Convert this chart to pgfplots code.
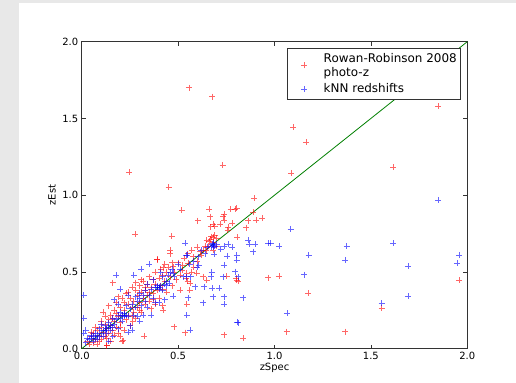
\documentclass[border=0pt]{standalone}
\usepackage{pgfplots}
\pgfplotsset{compat=1.18}
\usepackage{fontspec}
\setmainfont{DejaVu Sans}
\definecolor{mplgreen}{rgb}{0,0.5,0}
\definecolor{bggrey}{RGB}{232,232,232}
\begin{document}
\begin{tikzpicture}
\fill[white] (0,0) rectangle (516bp,383bp);
\fill[bggrey] (0,0) rectangle (19bp,383bp);
\fill[bggrey] (0,380bp) rectangle (516bp,383bp);
\begin{axis}[
  at={(81.7bp,34.3bp)}, anchor=south west,
  scale only axis, width=385.6bp, height=307bp,
  xmin=0, xmax=2, ymin=0, ymax=2,
  xtick={0,0.5,1,1.5,2}, ytick={0,0.5,1,1.5,2},
  minor tick num=0,
  major tick length=4bp,
  tick style={black!80, line width=0.6bp},
  axis line style={black!80, line width=0.9bp},
  /pgf/number format/.cd, fixed, fixed zerofill, precision=1, assume math mode=true,
  /pgfplots/.cd,
  ticklabel style={font=\fontsize{10}{12}\selectfont},
  xlabel={zSpec}, ylabel={zEst},
  label style={font=\fontsize{10}{12}\selectfont},
  xlabel style={at={(axis description cs:0.5,-0.0619)}, anchor=center},
  ylabel style={at={(axis description cs:-0.0770,0.5)}, anchor=center},
  clip=true,
  legend style={at={(0.984,0.980)}, anchor=north east, draw=black!80, line width=0.8bp,
    font=\fontsize{12}{14}\selectfont, cells={align=left, anchor=west},
    inner xsep=2bp, inner ysep=3bp, row sep=2bp},
  legend cell align=left,
]
\addplot[only marks, mark=+, mark size=3bp, red, line width=0.6bp, mark options={opacity=0.6},
  legend image code/.code={\draw[red, line width=0.6bp, opacity=0.6] (-3bp,0) -- (3bp,0) (0,-3bp) -- (0,3bp); \path (-15bp,0) (17bp,0);}] coordinates {
(0.03,0.05)(0.04,0.03)(0.05,0.08)(0.06,0.04)(0.06,0.10)(0.07,0.06)(0.08,0.12)(0.08,0.03)(0.09,0.09)(0.10,0.14)
(0.10,0.06)(0.11,0.24)(0.11,0.11)(0.12,0.16)(0.12,0.08)(0.13,0.02)(0.13,0.13)(0.14,0.19)(0.14,0.10)(0.15,0.22)
(0.15,0.15)(0.15,0.05)(0.16,0.12)(0.16,0.43)(0.17,0.25)(0.17,0.18)(0.18,0.14)(0.18,0.30)(0.19,0.21)(0.19,0.10)
(0.20,0.27)(0.20,0.17)(0.21,0.33)(0.21,0.22)(0.22,0.12)(0.22,0.25)(0.23,0.36)(0.23,0.19)(0.24,0.29)(0.24,0.22)
(0.25,0.33)(0.25,0.15)(0.26,0.27)(0.26,0.40)(0.27,0.24)(0.27,0.31)(0.28,0.43)(0.28,0.20)(0.29,0.35)(0.29,0.27)
(0.30,0.41)(0.30,0.30)(0.31,0.37)(0.31,0.24)(0.32,0.44)(0.32,0.33)(0.33,0.38)(0.33,0.29)(0.34,0.42)(0.34,0.35)
(0.35,0.47)(0.35,0.31)(0.36,0.40)(0.36,0.26)(0.37,0.45)(0.37,0.36)(0.38,0.50)(0.38,0.42)(0.39,0.58)(0.39,0.38)
(0.40,0.46)(0.40,0.33)(0.41,0.52)(0.41,0.41)(0.42,0.48)(0.42,0.28)(0.43,0.55)(0.43,0.44)(0.44,0.50)(0.44,0.37)
(0.45,0.53)(0.46,0.47)(0.47,0.56)(0.48,0.50)
(0.05,0.11)(0.07,0.14)(0.09,0.05)(0.10,0.18)(0.12,0.21)(0.13,0.07)(0.14,0.28)(0.16,0.20)(0.18,0.23)(0.19,0.34)
(0.20,0.08)(0.22,0.30)(0.24,0.37)(0.26,0.21)(0.28,0.38)(0.30,0.25)(0.31,0.45)(0.33,0.40)(0.35,0.37)(0.37,0.32)
(0.38,0.29)(0.42,0.39)(0.20,0.14)(0.17,0.09)(0.21,0.05)
(0.556,1.70)(0.676,1.642)(1.098,1.442)(1.163,1.345)(0.731,1.195)(1.086,1.145)(0.247,1.151)(0.451,1.051)
(1.850,1.581)(1.616,1.182)(0.519,0.901)(0.894,0.98)(0.276,0.745)(1.959,0.447)(1.175,0.361)(0.966,0.463)
(1.023,0.472)(1.063,0.111)(1.367,0.111)(1.556,0.263)(0.838,0.068)(0.740,0.091)(0.536,0.104)(0.480,0.143)
(0.323,0.083)(0.467,0.734)(0.458,0.643)(0.602,0.834)(0.662,0.910)(0.666,0.86)(0.683,0.812)(0.669,0.795)
(0.648,0.708)(0.669,0.712)(0.683,0.725)(0.657,0.669)(0.645,0.638)(0.614,0.632)(0.579,0.599)(0.890,0.89)
(0.937,0.849)(0.904,0.838)(0.864,0.834)(0.852,0.788)(0.807,0.725)(0.795,0.908)(0.773,0.910)(0.804,0.914)
(0.735,0.860)(0.738,0.875)(0.738,0.838)(0.717,0.812)(0.757,0.773)(0.392,0.582)(0.424,0.528)(0.475,0.534)
(0.524,0.545)(0.553,0.556)(0.545,0.491)(0.596,0.491)(0.631,0.469)(0.648,0.447)(0.562,0.426)(0.510,0.382)
(0.545,0.291)(0.752,0.473)(0.804,0.447)(0.424,0.252)(0.265,0.176)(0.216,0.052)(0.13,0.024)
(0.50,0.56)(0.52,0.51)(0.55,0.62)(0.57,0.64)(0.60,0.66)(0.62,0.61)(0.64,0.67)(0.66,0.70)(0.67,0.73)(0.68,0.69)
(0.69,0.74)(0.70,0.67)(0.69,0.80)(0.70,0.72)(0.58,0.53)(0.54,0.46)(0.56,0.38)(0.60,0.57)(0.63,0.64)(0.49,0.45)
(0.47,0.41)(0.46,0.62)(0.51,0.48)(0.53,0.59)(0.55,0.44)(0.57,0.50)(0.81,0.44)(0.80,0.46)(0.78,0.82)(0.76,0.79)
(0.68,0.64)
};
\addlegendentry{Rowan-Robinson 2008\\photo-z}
\addplot[only marks, mark=+, mark size=3bp, blue, line width=0.6bp, mark options={opacity=0.6},
  legend image code/.code={\draw[blue, line width=0.6bp, opacity=0.6] (-3bp,0) -- (3bp,0) (0,-3bp) -- (0,3bp); \path (-15bp,0) (17bp,0);}] coordinates {
(1.850,0.967)(1.616,0.687)(1.374,0.667)(1.367,0.576)(1.957,0.608)(1.948,0.556)(1.692,0.539)(1.692,0.343)
(1.556,0.296)(1.153,0.482)(1.177,0.608)(1.084,0.780)(1.025,0.669)(0.966,0.687)(0.98,0.687)(1.066,0.231)
(0.838,0.332)(0.805,0.174)(0.81,0.17)
(0.538,0.686)(0.548,0.610)(0.54,0.61)(0.605,0.599)(0.607,0.545)(0.60,0.53)(0.683,0.686)(0.68,0.675)(0.69,0.67)
(0.675,0.68)(0.685,0.66)(0.67,0.665)(0.688,0.615)(0.70,0.68)(0.738,0.545)(0.756,0.604)(0.804,0.610)(0.795,0.502)
(0.81,0.47)(0.735,0.469)(0.674,0.50)(0.672,0.47)(0.545,0.469)(0.525,0.47)(0.565,0.47)(0.588,0.404)(0.635,0.404)
(0.676,0.393)(0.714,0.393)(0.680,0.339)(0.738,0.339)(0.738,0.291)(0.631,0.300)(0.553,0.332)(0.545,0.219)
(0.562,0.122)(0.476,0.343)(0.455,0.426)(0.43,0.42)(0.475,0.491)(0.864,0.708)(0.87,0.68)(0.899,0.682)(0.890,0.632)
(0.804,0.578)(0.74,0.67)(0.76,0.68)(0.78,0.66)(0.72,0.65)(0.50,0.55)(0.51,0.52)(0.56,0.55)(0.58,0.57)(0.62,0.64)
(0.64,0.62)(0.65,0.66)(0.46,0.50)(0.48,0.47)(0.44,0.44)(0.47,0.52)
(0.02,0.04)(0.03,0.07)(0.04,0.06)(0.05,0.07)(0.05,0.09)(0.06,0.05)(0.06,0.08)(0.07,0.07)(0.07,0.10)(0.08,0.06)
(0.08,0.09)(0.09,0.08)(0.09,0.13)(0.10,0.10)(0.10,0.16)(0.11,0.12)(0.11,0.08)(0.12,0.12)(0.12,0.15)(0.13,0.13)
(0.13,0.10)(0.14,0.17)(0.14,0.14)(0.15,0.15)(0.15,0.12)(0.16,0.20)(0.16,0.14)(0.17,0.32)(0.17,0.16)(0.18,0.48)
(0.18,0.19)(0.19,0.22)(0.19,0.13)(0.20,0.24)(0.20,0.20)(0.21,0.22)(0.21,0.18)(0.22,0.22)(0.22,0.21)(0.22,0.23)
(0.23,0.22)(0.23,0.28)(0.24,0.21)(0.24,0.35)(0.25,0.26)(0.25,0.15)(0.26,0.29)(0.27,0.22)(0.28,0.34)(0.28,0.27)
(0.29,0.31)(0.29,0.21)(0.30,0.36)(0.30,0.33)(0.31,0.28)(0.31,0.52)(0.32,0.35)(0.32,0.22)(0.33,0.38)(0.33,0.31)
(0.34,0.42)(0.34,0.27)(0.35,0.55)(0.35,0.35)(0.36,0.39)(0.36,0.22)(0.37,0.33)(0.37,0.45)(0.38,0.40)(0.38,0.30)
(0.39,0.41)(0.39,0.40)(0.40,0.40)(0.40,0.39)(0.40,0.30)(0.41,0.41)(0.41,0.50)(0.42,0.38)(0.42,0.47)(0.43,0.32)
(0.44,0.41)(0.45,0.48)(0.20,0.39)(0.19,0.29)(0.27,0.48)(0.14,0.05)(0.16,0.08)(0.26,0.12)(0.24,0.11)(0.30,0.18)
(0.01,0.35)(0.01,0.20)(0.01,0.10)(0.02,0.12)
};
\addlegendentry{kNN redshifts}
\addplot[mplgreen, no marks, line width=0.8bp, forget plot] coordinates {(0,0)(2,2)};
\end{axis}
\pgfresetboundingbox
\path (0,0) rectangle (516bp,383bp);
\end{tikzpicture}
\end{document}
